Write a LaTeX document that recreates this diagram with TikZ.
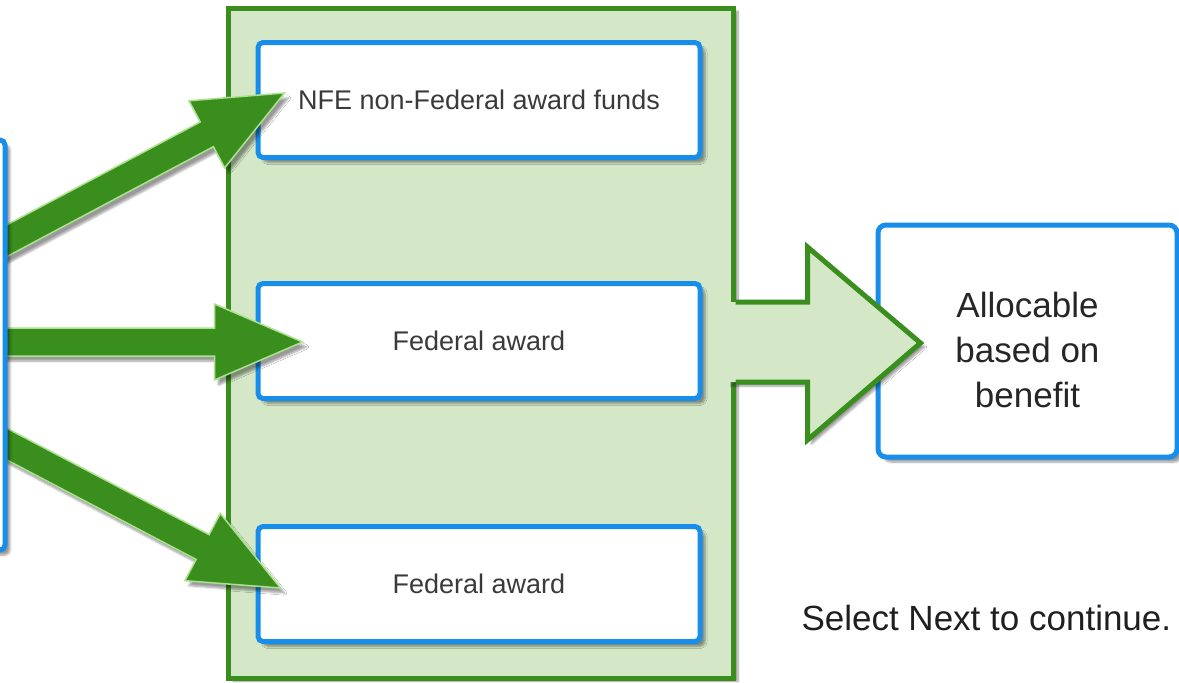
\documentclass[tikz,border=0pt]{standalone}
\usepackage{fontspec}
\setmainfont{Liberation Sans}
\usetikzlibrary{calc}
\usetikzlibrary{shadows.blur}

\definecolor{leafgreen}{RGB}{58,142,30}
\definecolor{palegreen}{RGB}{212,232,200}
\definecolor{rimgreen}{RGB}{172,226,142}
\definecolor{boxblue}{RGB}{24,142,234}
\definecolor{inkgray}{RGB}{58,58,58}

% fat arrow from #1 to the tip #2
\newcommand{\fatarrow}[2]{%
    \coordinate (hb) at ($(#2)!88pt!(#1)$);
    \filldraw[fatarrow] ($(#1)!14pt!90:(#2)$) -- ($(hb)!14pt!90:(#2)$)
        -- ($(hb)!38pt!90:(#2)$) -- (#2) -- ($(hb)!38pt!-90:(#2)$)
        -- ($(hb)!14pt!-90:(#2)$) -- ($(#1)!14pt!-90:(#2)$) -- cycle;}

\begin{document}
\begin{tikzpicture}[x=1pt,y=-1pt,
    panel/.style={draw=leafgreen,line width=5pt,fill=palegreen,
        minimum width=505pt,minimum height=670pt,
        blur shadow={shadow xshift=5pt,shadow yshift=-3pt,shadow blur steps=6}},
    card/.style={draw=boxblue,line width=5pt,fill=white,rounded corners=5pt,
        minimum width=442pt,minimum height=115pt,text=inkgray,
        font=\fontsize{27}{32}\selectfont,
        blur shadow={shadow xshift=5pt,shadow yshift=-5pt,shadow blur steps=6}},
    fatarrow/.style={fill=leafgreen,draw=rimgreen,line width=1.5pt,
        blur shadow={shadow xshift=4pt,shadow yshift=-5pt,shadow blur steps=6}}]
    \useasboundingbox (0,0) rectangle (1179,683);
    % the green panel with its three cards
    \node[panel] (panel) at (480.5,343) {};
    \foreach \name/\ypos/\words in {fund/100/NFE non-Federal award funds,
            awardA/341/Federal award,awardB/584/Federal award}
        \node[card] (\name) at (479,\ypos) {\words};
    \node[card,minimum width=299pt,minimum height=232pt,rounded corners=8pt,
        text=black!85,align=center,font=\fontsize{35}{45}\selectfont]
        (alloc) at (1027.5,341) {\rule{0pt}{44pt}Allocable\\based on\\benefit};
    % block arrow out of the panel
    \coordinate (tipR) at ($(alloc.west)+(45,2)$);
    \fill[palegreen,blur shadow={shadow xshift=4pt,shadow yshift=-4pt,shadow blur steps=6}]
        ($(panel.east)+(-7,-41)$) -- ($(tipR)+(-113,-41)$) -- ($(tipR)+(-113,-96)$)
        -- (tipR) -- ($(tipR)+(-113,97)$) -- ($(tipR)+(-113,39)$)
        -- ($(panel.east)+(-7,39)$) -- cycle;
    \draw[leafgreen,line width=5pt,line join=miter]
        ($(panel.east)+(0,-41)$) -- ($(tipR)+(-113,-41)$) -- ($(tipR)+(-113,-96)$)
        -- (tipR) -- ($(tipR)+(-113,97)$) -- ($(tipR)+(-113,39)$)
        -- ($(panel.east)+(0,39)$);
    % the three green arrows
    \coordinate (t1) at ($(fund.west)+(29,-7)$);
    \coordinate (t2) at ($(awardA.west)+(47,1)$);
    \coordinate (t3) at ($(awardB.west)+(25,4)$);
    \coordinate (s1) at (-20,255);
    \coordinate (s2) at (-20,342);
    \coordinate (s3) at (-20,430);
    \foreach \from/\to in {s1/t1,s2/t2,s3/t3}
        {\fatarrow{\from}{\to}}
    % source box, mostly off the page
    \node[card,minimum width=80pt,minimum height=410pt] (src) at (-35,345) {};
    \node[anchor=base west,font=\fontsize{35}{42}\selectfont,text=black!88]
        (hint) at (798,630) {Select Next to continue.};
\end{tikzpicture}
\end{document}
